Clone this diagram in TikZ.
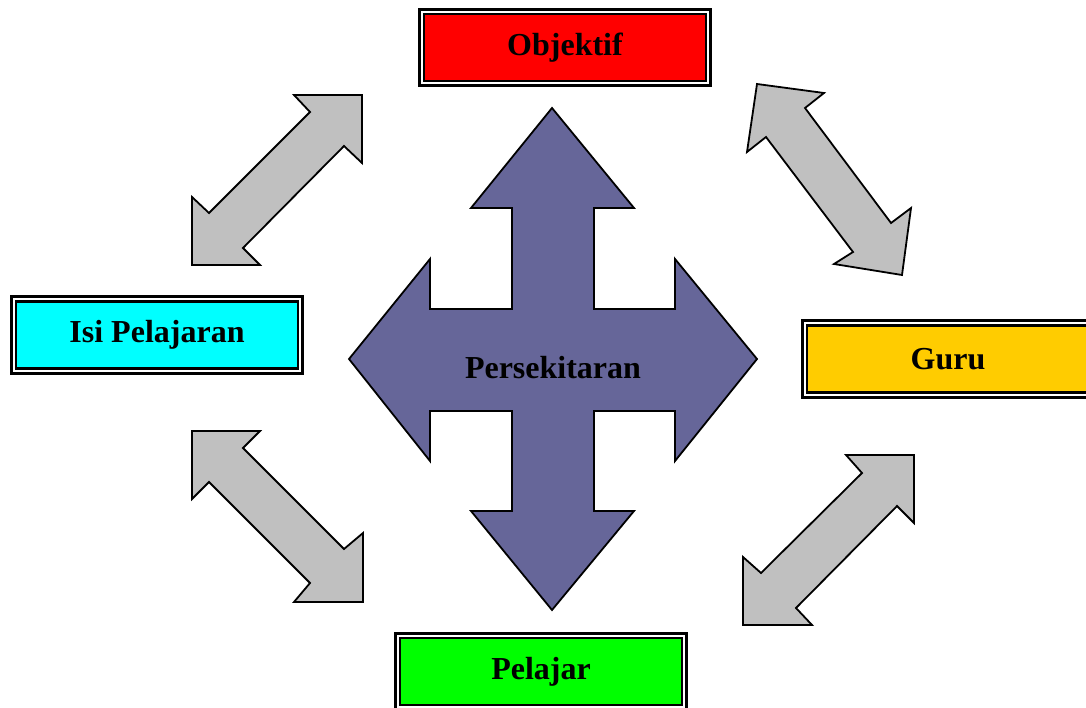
\documentclass[tikz,border=0pt]{standalone}
\usepackage{fontspec}
\setmainfont{Liberation Serif}
\usepackage{tikz}
\definecolor{objred}{RGB}{255, 0, 0}
\definecolor{isicyan}{RGB}{0, 255, 255}
\definecolor{gurugold}{RGB}{255, 204, 0}
\definecolor{pelgreen}{RGB}{0, 255, 0}
\definecolor{envpurple}{RGB}{102, 102, 153}
\definecolor{linkgrey}{RGB}{192, 192, 192}
\usetikzlibrary{positioning}

\begin{document}
\begin{tikzpicture}[x=1pt, y=-1pt,
  box/.style={draw=black, line width=2.7pt, double=white, double distance=2pt, minimum width=286.6pt, minimum height=71.6pt, inner sep=0pt, font=\fontsize{32}{38}\selectfont\bfseries},
  linkarrow/.style={fill=linkgrey, draw=black, line width=1.8pt, line join=miter},
  envarrow/.style={fill=envpurple, draw=black, line width=1.8pt, line join=miter}]
\useasboundingbox (0,0) rectangle (1086,708);
\node (obj) [box, fill=objred] at (565, 47.5) {Objektif};
\node (isi) [box, fill=isicyan] at (157, 335) {Isi Pelajaran};
\node (guru) [box, fill=gurugold] at (948, 359) {Guru};
\node (pelajar) [box, fill=pelgreen] at (541, 671.5) {Pelajar};
\draw [envarrow] (552,108) -- (634,208) -- (594,208) -- (594,309) -- (675,309) -- (675,259) -- (757,359) -- (675,461) -- (675,411) -- (594,411) -- (594,511) -- (634,511) -- (552,610) -- (471,511) -- (512,511) -- (512,411) -- (430,411) -- (430,461) -- (349,359) -- (430,259) -- (430,309) -- (512,309) -- (512,208) -- (471,208) -- cycle;
\node (env) [font=\fontsize{32}{38}\selectfont\bfseries] at (553, 368) {Persekitaran};
\draw [linkarrow] (362,95) -- (362,163) -- (344,146) -- (243,248) -- (260,265) -- (192,265) -- (192,197) -- (209,213) -- (310,112) -- (294,95) -- cycle;
\draw [linkarrow] (757,84) -- (824,93) -- (805,108) -- (891,223) -- (911,208) -- (902,275) -- (834,264) -- (853,252) -- (766,137) -- (747,152) -- cycle;
\draw [linkarrow] (192,431) -- (260,431) -- (243,448) -- (344,549) -- (363,533) -- (363,602) -- (294,602) -- (310,583) -- (209,482) -- (192,499) -- cycle;
\draw [linkarrow] (914,455) -- (914,523) -- (897,506) -- (796,608) -- (812,625) -- (743,625) -- (743,557) -- (761,573) -- (862,473) -- (846,455) -- cycle;
\end{tikzpicture}
\end{document}
